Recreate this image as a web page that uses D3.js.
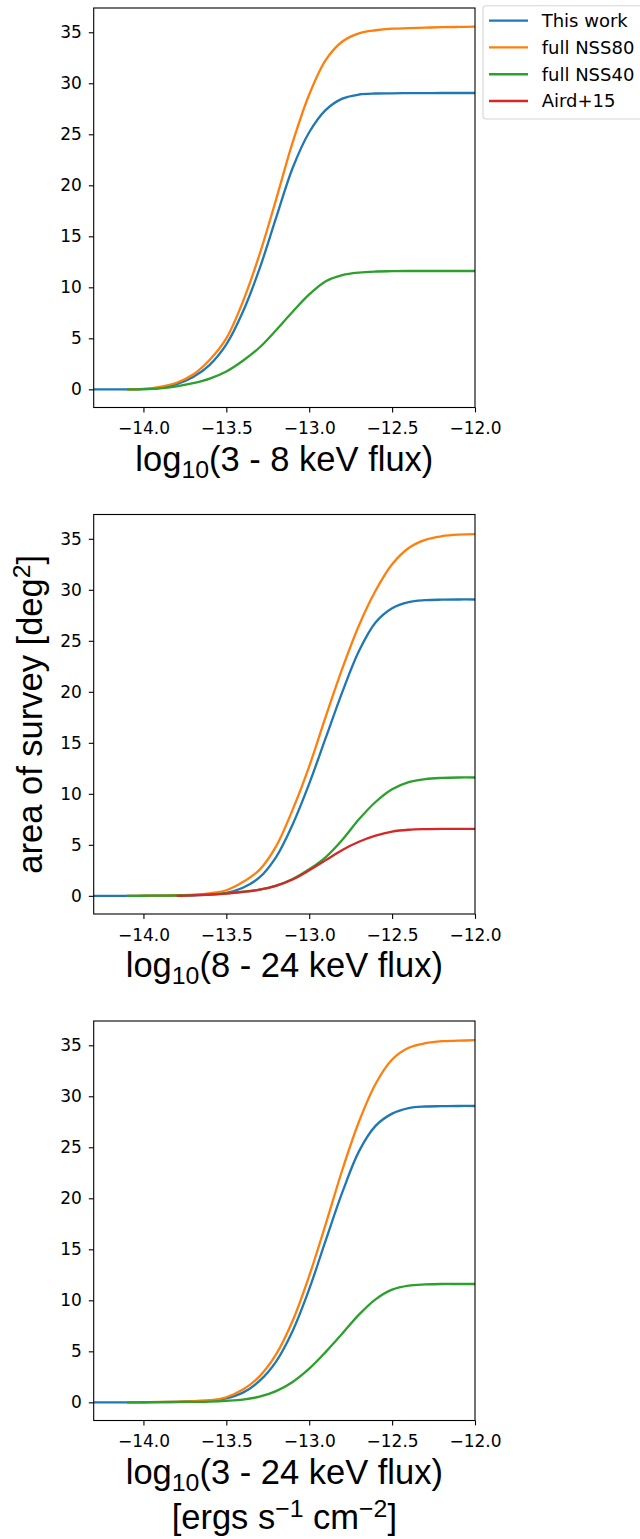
<!DOCTYPE html>
<html>
<head>
<meta charset="utf-8">
<script src="https://cdn.jsdelivr.net/npm/d3@7"></script>
<style>
  body { margin: 0; background: #fff; }
  svg { display: block; }
</style>
</head>
<body>
<div id="chart"></div>
<script>
// log10 flux grid shared by all series (null = curve not drawn there)
const fluxGrid = [-14.3, -14.2, -14.1, -14.0, -13.9, -13.8, -13.7, -13.6, -13.5, -13.4, -13.3, -13.2,
                  -13.1, -13.0, -12.9, -12.8, -12.7, -12.6, -12.5, -12.4, -12.3, -12.2, -12.1, -12.0];

// 3 - 8 keV
const band1ThisWork = [0, 0, 0, 0.02, 0.15, 0.5, 1.2, 2.4, 4.4, 7.6, 11.8, 16.8, 21.7, 25.2, 27.4, 28.5, 28.9, 29.0, 29.02, 29.03, 29.04, 29.05, 29.05, 29.05];
const band1NSS80 = [null, null, 0, 0.05, 0.25, 0.65, 1.45, 2.9, 5.0, 8.6, 13.2, 18.6, 24.2, 28.9, 32.3, 34.1, 34.9, 35.2, 35.35, 35.4, 35.45, 35.5, 35.52, 35.55];
const band1NSS40 = [null, null, 0, 0.02, 0.1, 0.3, 0.6, 1.05, 1.75, 2.8, 4.1, 5.8, 7.6, 9.3, 10.6, 11.2, 11.45, 11.55, 11.58, 11.6, 11.6, 11.6, 11.6, 11.6];

// 8 - 24 keV
const band2ThisWork = [0, 0, 0, 0, 0.01, 0.03, 0.06, 0.12, 0.3, 0.8, 1.8, 3.8, 7.0, 11.0, 15.5, 20.0, 24.0, 26.8, 28.2, 28.8, 28.98, 29.03, 29.05, 29.05];
const band2NSS80 = [null, null, 0, 0.01, 0.03, 0.06, 0.12, 0.25, 0.55, 1.35, 2.55, 4.85, 8.45, 12.7, 17.6, 22.3, 26.5, 29.9, 32.5, 34.1, 34.9, 35.25, 35.4, 35.45];
const band2NSS40 = [null, null, 0, 0.01, 0.02, 0.04, 0.08, 0.15, 0.25, 0.4, 0.6, 1.0, 1.65, 2.6, 3.8, 5.5, 7.5, 9.2, 10.45, 11.15, 11.45, 11.56, 11.6, 11.6];
const band2Aird = [null, null, null, null, null, 0, 0.05, 0.12, 0.22, 0.38, 0.6, 0.98, 1.6, 2.5, 3.5, 4.5, 5.3, 5.9, 6.3, 6.48, 6.54, 6.56, 6.56, 6.56];

// 3 - 24 keV
const band3ThisWork = [0, 0, 0, 0, 0.02, 0.05, 0.1, 0.18, 0.4, 0.95, 2.1, 4.0, 7.0, 11.1, 15.9, 20.6, 24.6, 27.1, 28.3, 28.85, 29.0, 29.03, 29.05, 29.05];
const band3NSS80 = [null, null, 0, 0.02, 0.04, 0.07, 0.12, 0.2, 0.5, 1.25, 2.55, 4.7, 8.0, 12.4, 17.5, 22.8, 27.5, 31.2, 33.6, 34.75, 35.2, 35.4, 35.45, 35.5];
const band3NSS40 = [null, null, 0, 0.01, 0.02, 0.03, 0.05, 0.08, 0.15, 0.27, 0.55, 1.1, 2.0, 3.3, 4.95, 6.75, 8.6, 10.1, 11.05, 11.45, 11.56, 11.6, 11.6, 11.6];

const seriesNames = ['This work', 'full NSS80', 'full NSS40', 'Aird+15'];
const seriesColors = ['#1f77b4', '#ff7f0e', '#2ca02c', '#d62728'];
const xTicks = [-14.0, -13.5, -13.0, -12.5, -12.0];
const yTicks = [0, 5, 10, 15, 20, 25, 30, 35];
const bandLabels = ['3 - 8', '8 - 24', '3 - 24'];

const panels = [
  { band: bandLabels[0], series: [band1ThisWork, band1NSS80, band1NSS40] },
  { band: bandLabels[1], series: [band2ThisWork, band2NSS80, band2NSS40, band2Aird] },
  { band: bandLabels[2], series: [band3ThisWork, band3NSS80, band3NSS40] },
];

const W = 640, H = 1539;
const left = 93.7, right = 475;
const panelTops = [8, 514.5, 1021];
const panelH = 399.5;
const tickFont = 'DejaVu Sans, sans-serif';
const labelFont = 'Liberation Sans, Arial, sans-serif';
const labelSize = 34.5;
const scriptSize = labelSize * 0.72;

const svg = d3.select('#chart').append('svg')
  .attr('width', W).attr('height', H)
  .attr('viewBox', `0 0 ${W} ${H}`);

const x = d3.scaleLinear().domain([-14.3, -12.0]).range([left, right]);

panels.forEach((p, i) => {
  const top = panelTops[i];
  const bottom = top + panelH;
  const y = d3.scaleLinear().domain([-1.78, 37.38]).range([bottom, top]);

  const g = svg.append('g');

  g.append('clipPath').attr('id', `clip${i}`)
    .append('rect')
    .attr('x', left).attr('y', top)
    .attr('width', right - left).attr('height', panelH);

  // curves
  const line = d3.line()
    .defined(d => d[1] != null)
    .x(d => x(d[0])).y(d => y(d[1]))
    .curve(d3.curveCatmullRom.alpha(0.5));

  p.series.forEach((vals, k) => {
    g.append('path')
      .datum(fluxGrid.map((f, j) => [f, vals[j]]))
      .attr('clip-path', `url(#clip${i})`)
      .attr('fill', 'none')
      .attr('stroke', seriesColors[k])
      .attr('stroke-width', 2.3)
      .attr('stroke-linejoin', 'round')
      .attr('d', line);
  });

  // axes
  const xAxis = g.append('g')
    .attr('transform', `translate(0,${bottom})`)
    .call(d3.axisBottom(x).tickValues(xTicks).tickFormat(d3.format('.1f'))
      .tickSize(4.9).tickPadding(10).tickSizeOuter(0));
  const yAxis = g.append('g')
    .attr('transform', `translate(${left},0)`)
    .call(d3.axisLeft(y).tickValues(yTicks).tickFormat(d3.format('d'))
      .tickSize(4.9).tickPadding(7).tickSizeOuter(0));

  [xAxis, yAxis].forEach(a => {
    a.select('.domain').remove();
    a.selectAll('.tick line').attr('stroke', '#000').attr('stroke-width', 1.1);
    a.selectAll('.tick text')
      .attr('fill', '#000')
      .style('font-family', tickFont)
      .style('font-size', '17px');
  });

  // frame
  g.append('rect')
    .attr('x', left).attr('y', top)
    .attr('width', right - left).attr('height', panelH)
    .attr('fill', 'none').attr('stroke', '#000').attr('stroke-width', 1.1);

  // x label: log10(band keV flux)
  const xl = g.append('text')
    .attr('x', (left + right) / 2)
    .attr('y', bottom + 63)
    .attr('text-anchor', 'middle')
    .style('font-family', labelFont)
    .style('font-size', labelSize + 'px')
    .attr('fill', '#000');
  xl.append('tspan').text('log');
  xl.append('tspan').attr('dy', 7).style('font-size', scriptSize + 'px').text('10');
  xl.append('tspan').attr('dy', -7).text(`(${p.band} keV flux)`);

  if (i === 2) {
    const ul = g.append('text')
      .attr('x', (left + right) / 2)
      .attr('y', bottom + 108)
      .attr('text-anchor', 'middle')
      .style('font-family', labelFont)
      .style('font-size', labelSize + 'px')
      .attr('fill', '#000');
    ul.append('tspan').text('[ergs s');
    ul.append('tspan').attr('dy', -12).style('font-size', scriptSize + 'px').text('\u22121');
    ul.append('tspan').attr('dy', 12).text(' cm');
    ul.append('tspan').attr('dy', -12).style('font-size', scriptSize + 'px').text('\u22122');
    ul.append('tspan').attr('dy', 12).text(']');
  }

  if (i === 1) {
    const yl = g.append('text')
      .attr('transform', `translate(42,${(top + bottom) / 2}) rotate(-90)`)
      .attr('text-anchor', 'middle')
      .style('font-family', labelFont)
      .style('font-size', labelSize + 'px')
      .attr('fill', '#000');
    yl.append('tspan').text('area of survey [deg');
    yl.append('tspan').attr('dy', -12).style('font-size', scriptSize + 'px').text('2');
    yl.append('tspan').attr('dy', 12).text(']');
  }
});

// legend (top right, runs off the page edge)
const legend = svg.append('g');
legend.append('rect')
  .attr('x', 483).attr('y', 5.7)
  .attr('width', 170).attr('height', 113.3)
  .attr('rx', 3)
  .attr('fill', '#fff')
  .attr('stroke', '#d6d6d6').attr('stroke-width', 1.1);

const legendY = d3.scalePoint().domain(seriesNames).range([20.7, 101]);
seriesNames.forEach((name, k) => {
  const ly = legendY(name);
  legend.append('line')
    .attr('x1', 489).attr('x2', 528)
    .attr('y1', ly).attr('y2', ly)
    .attr('stroke', seriesColors[k]).attr('stroke-width', 2.3);
  legend.append('text')
    .attr('x', 541.7).attr('y', ly).attr('dy', '0.35em')
    .style('font-family', tickFont)
    .style('font-size', '18px')
    .attr('fill', '#000')
    .text(name);
});
</script>
</body>
</html>
